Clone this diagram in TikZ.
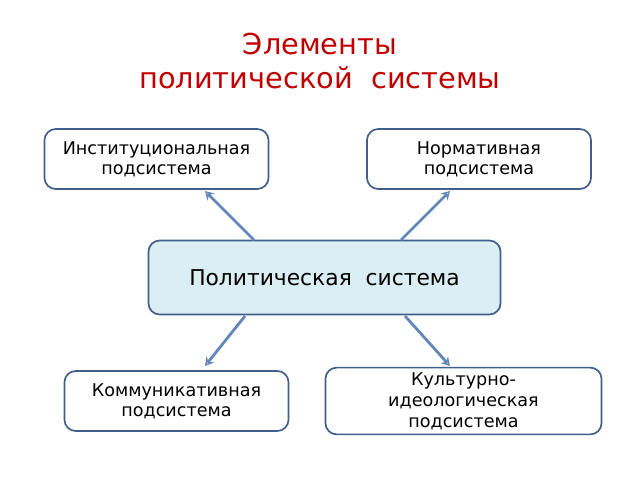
\documentclass[tikz,border=0pt]{standalone}
\usepackage{fontspec}
\setmainfont{DejaVu Sans}
\usetikzlibrary{arrows.meta}
\definecolor{boxline}{RGB}{65,95,140}
\definecolor{boxfill}{RGB}{218,238,243}
\definecolor{arrowline}{RGB}{100,135,185}
\definecolor{titlered}{RGB}{192,0,0}
\tikzset{
  subbox/.style={draw=boxline,line width=1.2pt,rounded corners=8pt,fill=white,
    minimum width=5.6cm,minimum height=1.5cm,align=center,font=\fontsize{12.5}{14}\selectfont},
  link/.style={arrowline,line width=2pt,-{Stealth[open,length=6pt,width=7pt]}}
}
\begin{document}
\begin{tikzpicture}[x=0.025cm,y=-0.025cm]
  \useasboundingbox (0,0) rectangle (640,480);

  \node[titlered,align=center,font=\fontsize{20.5}{24}\selectfont] (title) at (320,61)
    {Элементы\\политической\ \ системы};

  \node[subbox] (inst) at (156.5,159) {Институциональная\\подсистема};
  \node[subbox] (norm) at (479,159) {Нормативная\\подсистема};
  \node[subbox,fill=boxfill,minimum width=8.8cm,minimum height=1.85cm,
    font=\fontsize{15.5}{17}\selectfont] (polit) at (324.5,277.5) {Политическая\ \ система};
  \node[subbox] (comm) at (176.5,401) {Коммуникативная\\подсистема};
  \node[subbox,minimum width=6.9cm,font=\fontsize{12.5}{15}\selectfont] (cult) at (463.5,401)
    {Культурно-\\идеологическая\\подсистема};

  \coordinate (pa) at (254,240);
  \coordinate (pb) at (401,240);
  \coordinate (pc) at (245,316);
  \coordinate (pd) at (405,316);
  \coordinate (ta) at (205,191);
  \coordinate (tb) at (450,191);
  \coordinate (tc) at (205,366);
  \coordinate (td) at (450,366);

  \draw[link] (pa) -- (ta);
  \draw[link] (pb) -- (tb);
  \draw[link] (pc) -- (tc);
  \draw[link] (pd) -- (td);
\end{tikzpicture}
\end{document}
